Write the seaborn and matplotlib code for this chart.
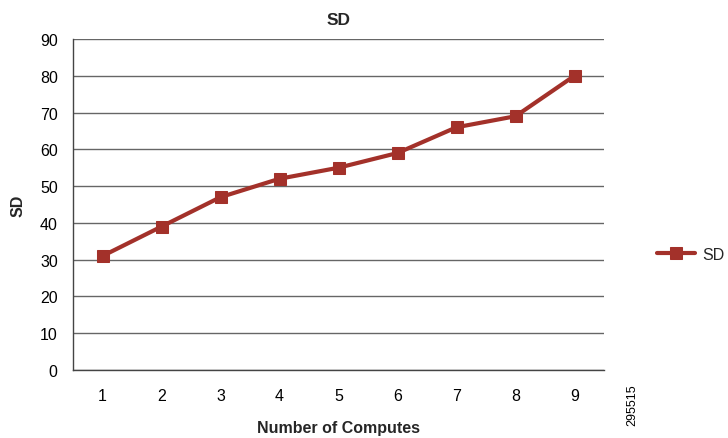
import matplotlib
matplotlib.use("Agg")
import matplotlib.pyplot as plt
from matplotlib.ticker import FixedLocator, NullFormatter
import seaborn as sns
import pandas as pd

computes = [1, 2, 3, 4, 5, 6, 7, 8, 9]
sd_values = [31, 39, 47, 52, 55, 59, 66, 69, 80]
y_ticks = [0, 10, 20, 30, 40, 50, 60, 70, 80, 90]

sns.set_theme(style="white")
plt.rcParams["font.family"] = ["Liberation Sans", "DejaVu Sans"]

df = pd.DataFrame({"Number of Computes": computes, "SD": sd_values})

fig = plt.figure(figsize=(7.28, 4.39), dpi=100)
ax = fig.add_axes([73 / 728, 1 - 371 / 439, (604 - 73) / 728, (371 - 40) / 439])

line_color = "#A3312A"
sns.lineplot(data=df, x="Number of Computes", y="SD", ax=ax, color=line_color,
             linewidth=3.0, marker="s", markersize=8.5, markeredgecolor=line_color,
             label="SD", zorder=3)

ax.set_xlim(0.5, 9.5)
ax.set_ylim(0, 90)
ax.set_yticks(y_ticks)
ax.set_xticks(computes)
ax.xaxis.set_minor_locator(FixedLocator([x + 0.5 for x in range(0, 10)]))
ax.xaxis.set_minor_formatter(NullFormatter())
ax.tick_params(axis="x", which="major", length=0, pad=13, labelsize=11.5, colors="black")
ax.tick_params(axis="x", which="minor", length=5, width=1, color="#444444", direction="out")
ax.tick_params(axis="y", which="major", length=5, width=1, color="#444444", direction="out",
               labelsize=11.5, pad=6, colors="black")
for lab in ax.get_yticklabels():
    lab.set_color("black")

ax.grid(axis="y", color="#666666", linewidth=1)
ax.set_axisbelow(True)
for side in ["top", "right"]:
    ax.spines[side].set_visible(False)
for side in ["left", "bottom"]:
    ax.spines[side].set_color("#444444")
    ax.spines[side].set_linewidth(1)

ax.set_title("SD", fontsize=12.5, fontweight="bold", pad=11)
ax.set_xlabel("Number of Computes", fontsize=11.5, fontweight="bold", labelpad=12)
ax.set_ylabel("SD", fontsize=11.5, fontweight="bold", labelpad=10)

leg = ax.legend(loc="center left", bbox_to_anchor=(1.1, 0.35), frameon=False,
                fontsize=11.5, handlelength=2.4, handletextpad=0.4,
                borderaxespad=0, borderpad=0)

fig.text(632 / 728, 1 - 405 / 439, "295515", rotation=90, fontsize=9,
         ha="center", va="center", color="black")

fig.savefig("out.png", dpi=100)
